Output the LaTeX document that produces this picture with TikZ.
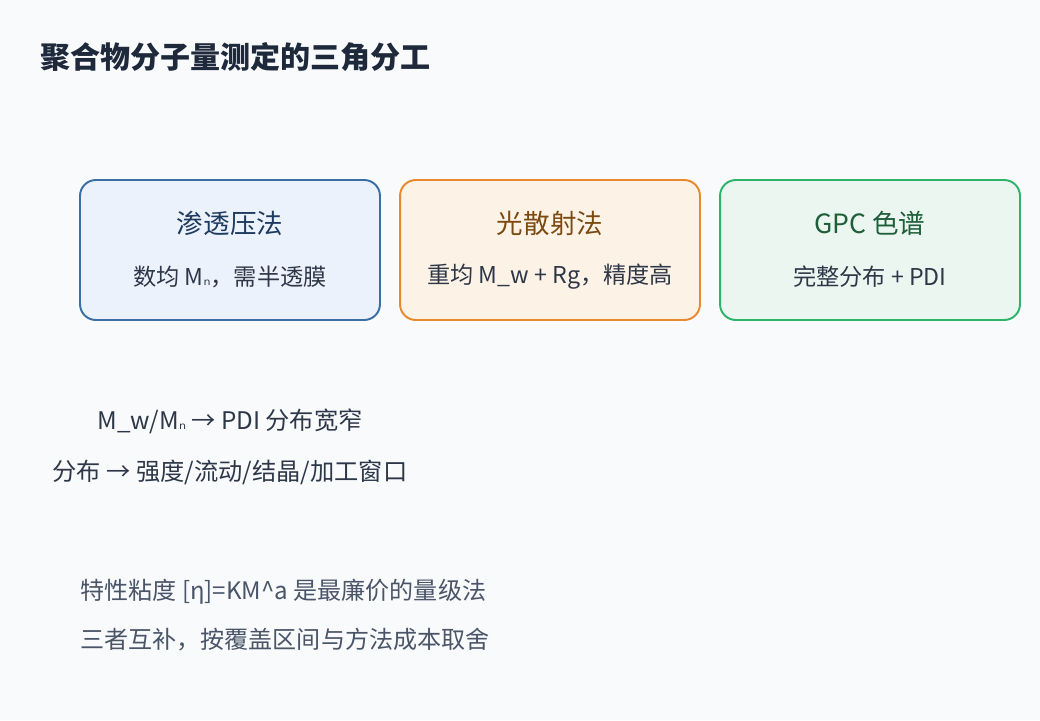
\documentclass[tikz,border=0pt]{standalone}
\usepackage{xcolor}
\usepackage{fontspec}
\setmainfont{Noto Sans CJK SC}
\newfontfamily\symfont{DejaVu Sans}
\usepackage{tikz}
\usetikzlibrary{positioning}

\definecolor{bgcol}{HTML}{F8FAFC}
\definecolor{titlecol}{HTML}{1E293B}
\definecolor{txtcol}{HTML}{2D3748}
\definecolor{graycol}{HTML}{4A5568}
\definecolor{blueline}{HTML}{3A6EA5}
\definecolor{bluefill}{HTML}{EBF2FB}
\definecolor{bluetxt}{HTML}{1E3A5F}
\definecolor{orangeline}{HTML}{E8892F}
\definecolor{orangefill}{HTML}{FDF2E6}
\definecolor{orangetxt}{HTML}{7B4A12}
\definecolor{greenline}{HTML}{2EB36B}
\definecolor{greenfill}{HTML}{EAF6EF}
\definecolor{greentxt}{HTML}{1F5E3A}

\newcommand{\msubn}{M{\symfont\fontsize{10pt}{11pt}\selectfont ₙ}}

\tikzset{
	method/.style = {draw, line width = 1.1pt, rounded corners = 9pt,
		minimum width = 6cm, minimum height = 2.8cm, inner sep = 0pt},
	head/.style = {font = \fontsize{15.1pt}{18pt}\selectfont},
	sub/.style = {font = \fontsize{13.2pt}{16pt}\selectfont, text = txtcol},
	note/.style = {font = \fontsize{13.8pt}{16pt}\selectfont, text = txtcol},
	remark/.style = {font = \fontsize{13.7pt}{16pt}\selectfont, text = graycol, anchor = west}
}

\begin{document}
\begin{tikzpicture}[
			x = 0.02cm, y = -0.02cm,
			every node/.style = {inner sep = 0pt}
			]

			\fill[bgcol] (0,0) rectangle (1040,720);
			\useasboundingbox (0,0) rectangle (1040,720);

			\node[anchor=west, text=titlecol, font=\fontsize{17.1pt}{20pt}\selectfont\bfseries] (title) at (40,57) {聚合物分子量测定的三角分工};

			\node[method, draw=blueline, fill=bluefill] (osmo) at (230,250) {};
			\node[method, draw=orangeline, fill=orangefill] (light) at (550,250) {};
			\node[method, draw=greenline, fill=greenfill] (gpc) at (870,250) {};

			\node[head, text=bluetxt] (osmohead) at (230,223) {渗透压法};
			\node[sub] (osmosub) at (230,277) {数均 \msubn，需半透膜};
			\node[head, text=orangetxt] (lighthead) at (550,223) {光散射法};
			\node[sub] (lightsub) at (550,277) {重均 M\_w + Rg，精度高};
			\node[head, text=greentxt] (gpchead) at (870,223) {GPC 色谱};
			\node[sub] (gpcsub) at (870,277) {完整分布 + PDI};

			\node[note] (pdi) at (230,421) {M\_w/\msubn{} → PDI 分布宽窄};
			\node[note] (use) at (230,472) {分布 → 强度/流动/结晶/加工窗口};

			\node[remark] (visc) at (80,592) {特性粘度 [η]=KM\^{}a 是最廉价的量级法};
			\node[remark] (sum) at (80,640) {三者互补，按覆盖区间与方法成本取舍};

		\end{tikzpicture}
\end{document}
